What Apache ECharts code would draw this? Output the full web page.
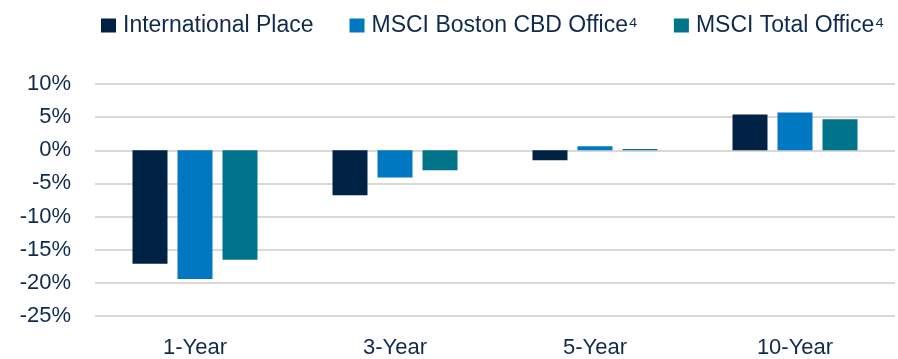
<!DOCTYPE html>
<html>
<head>
<meta charset="utf-8">
<script src="https://cdn.jsdelivr.net/npm/echarts@6/dist/echarts.min.js"></script>
<style>
  html, body { margin: 0; padding: 0; background: #ffffff; }
  #chart { width: 898px; height: 359px; }
</style>
</head>
<body>
<div id="chart"></div>
<script>
// Annualized total returns by holding period
const categories = ['1-Year', '3-Year', '5-Year', '10-Year'];
const seriesNames = ['International Place', 'MSCI Boston CBD Office\u2074', 'MSCI Total Office\u2074'];
const internationalPlace = [-17.1, -6.8, -1.5, 5.4];
const msciBostonCBD = [-19.4, -4.1, 0.6, 5.7];
const msciTotalOffice = [-16.5, -3.0, 0.2, 4.7];
const yTicks = { min: -25, max: 10, step: 5 };

const colors = ['#002245', '#0078c1', '#00748a'];
const textColor = '#0f2a4d';
const fontFamily = '"Liberation Sans", Arial, sans-serif';

const chart = echarts.init(document.getElementById('chart'), null, { renderer: 'canvas' });

const values = [internationalPlace, msciBostonCBD, msciTotalOffice];

chart.setOption({
  animation: false,
  color: colors,
  legend: {
    left: 96,
    top: 9,
    itemWidth: 15,
    itemHeight: 14,
    itemGap: 36,
    icon: 'rect',
    textStyle: { color: textColor, fontSize: 23, fontFamily: fontFamily, padding: [0, 0, 0, 2] },
    data: seriesNames
  },
  grid: { left: 95, right: 3, top: 84, bottom: 43 },
  xAxis: {
    type: 'category',
    data: categories,
    position: 'bottom',
    axisLine: { show: false, onZero: false },
    axisTick: { show: false },
    axisLabel: { color: textColor, fontSize: 22, fontFamily: fontFamily, margin: 21 }
  },
  yAxis: {
    type: 'value',
    min: yTicks.min,
    max: yTicks.max,
    interval: yTicks.step,
    axisLine: { show: false },
    axisTick: { show: false },
    splitLine: { lineStyle: { color: '#d9d9d9', width: 2 } },
    axisLabel: { color: textColor, fontSize: 22, fontFamily: fontFamily, margin: 24, formatter: '{value}%' }
  },
  series: seriesNames.map((name, i) => ({
    name: name,
    type: 'bar',
    data: values[i],
    barGap: '28.6%',
    barCategoryGap: '37.5%',
    itemStyle: { color: colors[i] }
  }))
});
</script>
</body>
</html>
